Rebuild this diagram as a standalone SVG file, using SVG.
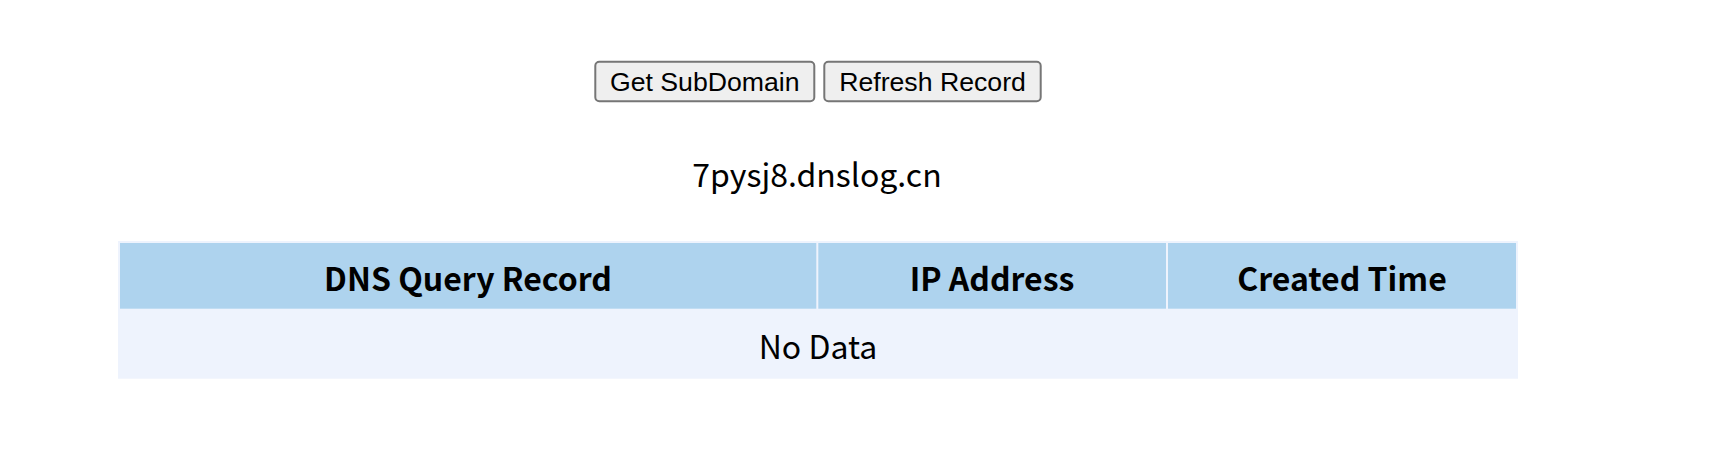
<svg xmlns="http://www.w3.org/2000/svg" width="1710" height="460" viewBox="0 0 1710 460">
<style>
.btn{fill:#efefef;stroke:#767676;stroke-width:2}
.btxt{font-family:"Liberation Sans",Arial,sans-serif;font-size:26.67px;fill:#000;text-anchor:middle}
.txt{font-family:"Noto Sans CJK SC","Noto Sans",sans-serif;font-size:32px;fill:#000;text-anchor:middle}
.th{fill:#aed3ee}
.bold{font-weight:bold}
</style>
<rect width="1710" height="460" fill="#ffffff"/>
<g id="btn-get-subdomain">
<rect class="btn" x="595.3" y="61.7" width="219" height="39.6" rx="4"/>
<text class="btxt" x="704.8" y="90.5">Get SubDomain</text>
</g>
<g id="btn-refresh-record">
<rect class="btn" x="824.3" y="61.7" width="216.4" height="39.6" rx="4"/>
<text class="btxt" x="932.5" y="90.5">Refresh Record</text>
</g>
<g id="subdomain">
<text class="txt" x="817" y="186.5">7pysj8.dnslog.cn</text>
</g>
<g id="table">
<rect x="118" y="241" width="1400" height="137.7" fill="#eef3fd"/>
<g id="th-dns">
<rect class="th" x="120" y="243" width="696.3" height="65.7"/>
<text class="txt bold" x="468" y="291">DNS Query Record</text>
</g>
<g id="th-ip">
<rect class="th" x="818.3" y="243" width="347.7" height="65.7"/>
<text class="txt bold" x="992" y="291">IP Address</text>
</g>
<g id="th-time">
<rect class="th" x="1168" y="243" width="348" height="65.7"/>
<text class="txt bold" x="1342" y="291">Created Time</text>
</g>
<g id="td-nodata">
<rect x="120" y="310.7" width="1396" height="66" fill="#eef3fd"/>
<text class="txt" x="818" y="359">No Data</text>
</g>
</g>
<g id="connectors"></g>
</svg>
